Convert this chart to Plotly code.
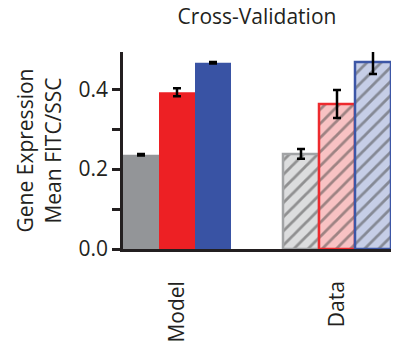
import plotly.graph_objects as go

groups = ["Model", "Data"]
gray_vals = [0.236, 0.238]
red_vals = [0.392, 0.363]
blue_vals = [0.466, 0.468]
gray_err = [0.002, 0.012]
red_err = [0.010, 0.035]
blue_err = [0.002, 0.030]

title = "Cross-Validation"
ytitle = "Gene Expression<br>Mean FITC/SSC"

series = [
    ("gray", gray_vals, gray_err, "#939598", "#DCDDDE", "#A2A4A6"),
    ("red", red_vals, red_err, "#ED2024", "#F8C2C3", "#ED2A2E"),
    ("blue", blue_vals, blue_err, "#3953A4", "#C6CEE7", "#3C56A6"),
]

FONT = "Open Sans"
FS = 21
fig = go.Figure()
for name, vals, err, solid, light, line in series:
    fig.add_trace(go.Bar(
        name=name, x=groups, y=vals,
        marker=dict(
            color=[solid, light],
            line=dict(color=[solid, line], width=[0, 2.5]),
            pattern=dict(shape=["", "/"], fgcolor=line, bgcolor=light,
                         size=10, solidity=0.28, fillmode="overlay"),
        ),
        error_y=dict(type="data", array=err, color="black", thickness=2.5, width=4),
        showlegend=False,
    ))

fig.update_layout(
    width=409, height=360,
    margin=dict(l=123, r=18, t=52, b=111),
    plot_bgcolor="white", paper_bgcolor="white",
    barmode="group", bargap=0.325, bargroupgap=0,
    font=dict(family=FONT, size=FS, color="#231F20"),
    title=dict(text=title, x=0.5, xanchor="center", xref="paper", y=0.955, yanchor="middle",
               font=dict(family=FONT, size=21, color="#231F20")),
)
fig.update_xaxes(
    range=[-0.3375, 1.3375], showline=True, linecolor="#231F20", linewidth=2.5,
    ticks="", tickangle=-90, ticklabelstandoff=21,
    tickfont=dict(family=FONT, size=FS, color="#231F20"), showgrid=False, zeroline=False,
)
fig.update_yaxes(
    range=[0, 0.493], showline=True, linecolor="#231F20", linewidth=2.5,
    tickvals=[0.0, 0.2, 0.4], ticktext=["0.0", "0.2", "0.4"],
    ticks="outside", ticklen=8, tickwidth=2.5, tickcolor="#231F20",
    minor=dict(tickvals=[0.1, 0.3], ticks="outside", ticklen=8, tickwidth=2.5, tickcolor="#231F20"),
    tickfont=dict(family=FONT, size=FS, color="#231F20"),
    showgrid=False, zeroline=False,
    title=dict(text=ytitle, font=dict(family=FONT, size=FS, color="#231F20"), standoff=12),
)

fig.write_html("out.html")
